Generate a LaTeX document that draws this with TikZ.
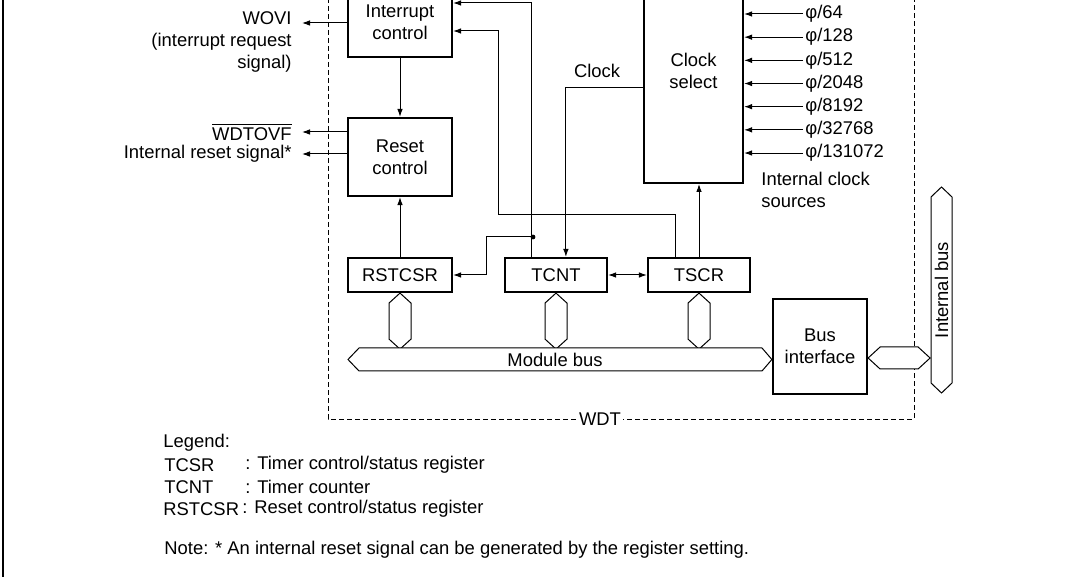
\documentclass[tikz,border=0pt]{standalone}
\usepackage{fontspec}
\setmainfont{Liberation Sans}
\usetikzlibrary{arrows.meta,calc}

\begin{document}
\begin{tikzpicture}[x=0.5pt,y=-0.5pt,font=\fontsize{9.2}{11.2}\selectfont,
    regbox/.style={draw,line width=1.1pt,align=center,inner sep=0pt},
    sig/.style={-{Latex[length=4pt,width=2.8pt]},line width=0.5pt},
    sigboth/.style={{Latex[length=4pt,width=2.8pt]}-{Latex[length=4pt,width=2.8pt]},line width=0.5pt},
    bus/.style={draw,line width=0.5pt,fill=white},
    lbl/.style={inner sep=0pt,align=left}]
    \useasboundingbox (0,0) rectangle (1066,577);
    \clip (0,0) rectangle (1066,577);

    \draw[line width=1.2pt] (3,-10) -- (3,590);
    \draw[dashed,dash pattern=on 2.5pt off 1.5pt,line width=0.5pt] (328,-10) |- (914,419) -- (914,-10);
    \node[fill=white,inner sep=1pt] (wdt) at (600,419) {WDT};

    \node[regbox,minimum width=52pt,minimum height=50pt,anchor=south] (intc) at (400,58) {};
    \node[lbl,align=center] (intctxt) at (400,22) {Interrupt\\control};
    \node[regbox,minimum width=52pt,minimum height=39pt] (rstc) at (400,157) {Reset\\control};
    \node[regbox,minimum width=49.5pt,minimum height=110pt,anchor=south] (clks) at (693.5,184) {};
    \node[lbl,align=center] (clkstxt) at (693.5,71) {Clock\\select};
    \node[regbox,minimum width=52pt,minimum height=17pt] (rstcsr) at (400,275) {RSTCSR};
    \node[regbox,minimum width=51pt,minimum height=17pt] (tcnt) at (556,275) {TCNT};
    \node[regbox,minimum width=51pt,minimum height=17pt] (tscr) at (699,275) {TSCR};
    \node[regbox,minimum width=47pt,minimum height=47.5pt] (bif) at (820,346.5) {Bus\\interface};

    \coordinate (wovi) at (302,23);
    \coordinate (ovf) at (302,132);
    \coordinate (irs) at (302,154);
    \draw[sig] (intc.west |- wovi) -- (wovi);
    \draw[sig] (rstc.west |- ovf) -- (ovf);
    \draw[sig] (rstc.west |- irs) -- (irs);
    \node[lbl,align=right,anchor=east] (wovilbl) at (292,42) {WOVI\\(interrupt request\\signal)};
    \node[lbl,anchor=east] (ovflbl) at (292,132) {$\overline{\mbox{WDTOVF}}$};
    \node[lbl,anchor=east] (irslbl) at (292,154) {Internal reset signal*};

    \draw[sig] (intc) -- (rstc);
    \draw[sig] (rstcsr) -- (rstc);
    \draw[sigboth] (tcnt) -- (tscr);
    \draw[sig] (tscr.north) -- (tscr.north |- clks.south);
    \draw[sig] (clks.west |- 0,88) -| ($(tcnt.north west)+(62,0)$);
    \node[lbl] (clklbl) at (597,71) {Clock};

    \draw[sig] ($(tcnt.north west)+(28,0)$) |- (intc.east |- 0,3);
    \coordinate (jn) at (533,237);
    \fill (jn) circle (1.2pt);
    \draw[sig] (jn) -- (486,237) |- (rstcsr.east);
    \draw[sig] ($(tscr.north west)+(29,0)$) |- (498,215) |- (intc.east |- 0,31);

    \foreach \d [count=\i from 0] in {64,128,512,2048,8192,32768,131072} {
        \pgfmathsetmacro\yy{14+23.17*\i}
        \draw[sig] (803,\yy) -- (clks.east |- 0,\yy);
        \node[lbl,anchor=west] at (805,\yy) {φ/\d};
    }
    \node[lbl,anchor=west] (srclbl) at (761,190) {Internal clock\\sources};

    \foreach \r in {rstcsr,tcnt,tscr}
        \draw[bus] (\r.south) -- ++(11,10) -- ++(0,36) -- ++(-11,10) -- ++(-11,-10) -- ++(0,-36) -- cycle;
    \draw[bus] (348,359.5) -- (359,348) -- (762,348) -- (bif.west |- 0,359.5) -- (762,371) -- (359,371) -- cycle;
    \node[lbl] (mbus) at (555,359.5) {Module bus};
    \draw[bus] (bif.east |- 0,358) -- ++(12,-11) -- ++(38,0) -- ++(12,11) -- ++(-12,11) -- ++(-38,0) -- cycle;
    \draw[bus] (941.5,187) -- ++(10.5,10) -- ++(0,186) -- ++(-10.5,10) -- ++(-10.5,-10) -- ++(0,-186) -- cycle;
    \node[lbl,rotate=90] (ibus) at (941.5,290) {Internal bus};

    \node[lbl,anchor=west] (leg) at (163,443) {Legend:};
    \node[lbl,anchor=west] at (164,465) {TCSR};
    \node[lbl,anchor=west] at (245,465) {: Timer control/status register};
    \node[lbl,anchor=west] at (164,487) {TCNT};
    \node[lbl,anchor=west] at (245,487) {: Timer counter};
    \node[lbl,anchor=west] at (163,509) {RSTCSR};
    \node[lbl,anchor=west] at (242,509) {: Reset control/status register};
    \node[lbl,anchor=west] (note) at (164,550) {Note: * An internal reset signal can be generated by the register setting.};
\end{tikzpicture}
\end{document}
